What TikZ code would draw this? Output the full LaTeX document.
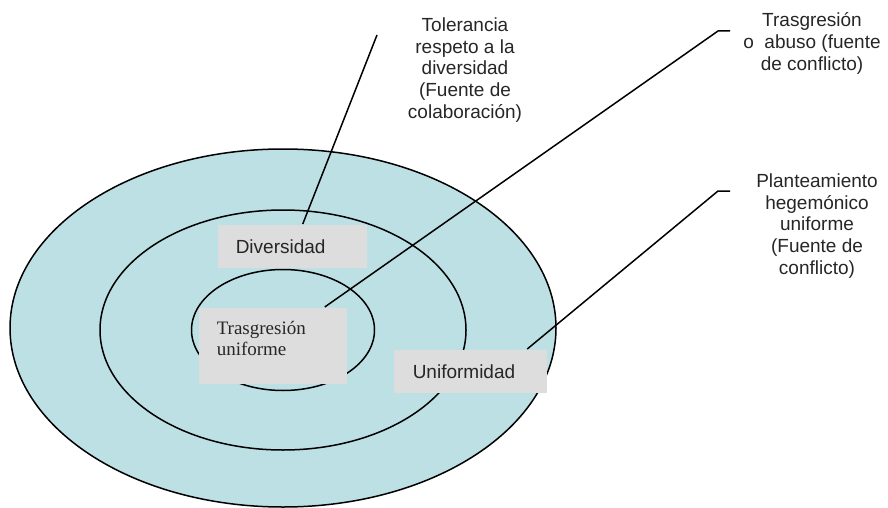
\documentclass[tikz,border=0pt]{standalone}
\usepackage{fontspec}
\setmainfont{Liberation Sans}
\newfontfamily\timesfont{Liberation Serif}
\definecolor{anillo}{RGB}{189,224,228}
\definecolor{caja}{RGB}{221,221,221}
\definecolor{texto}{RGB}{38,38,38}
\begin{document}
\begin{tikzpicture}[x=1pt, y=-1pt, line width=1.5pt,
  caja/.style={fill=caja, draw=none, text=texto, align=left, minimum height=43pt},
  nota/.style={text=texto, align=center, font=\fontsize{19}{21.6}\selectfont}]
\useasboundingbox (0,0) rectangle (888,508);
\draw[fill=anillo] (283,328) ellipse [x radius=273, y radius=179];
\draw (283,330) ellipse [x radius=183, y radius=120];
\draw (283,330) ellipse [x radius=91.5, y radius=60.5];
\node[caja, anchor=north west, inner xsep=17.5pt, text width=114pt, font=\fontsize{19}{21.6}\selectfont] (B_div) at (217.5,224) {Diversidad};
\node[caja, anchor=north west, inner xsep=18pt, text width=112pt, minimum height=76pt, text depth=35pt, font=\timesfont\fontsize{19}{21}\selectfont] (B_tras) at (198,307) {Trasgresión\\uniforme};
\node[caja, anchor=north west, inner xsep=19pt, text width=115pt, font=\fontsize{19}{21.6}\selectfont] (B_uni) at (393,349) {Uniformidad};
\node[nota] (T_tol) at (465,70) {Tolerancia\\respeto a la\\diversidad\\(Fuente de\\colaboración)};
\node[nota] (T_tras) at (812,43.5) {Trasgresión\\o\ \ abuso (fuente\\de conflicto)};
\node[nota] (T_plan) at (817,226) {Planteamiento\\hegemónico\\uniforme\\(Fuente de\\conflicto)};
\coordinate (C_tol) at (377,35);
\coordinate (C_tras1) at (730,31);
\coordinate (C_tras2) at (718,31);
\coordinate (C_plan1) at (730,191);
\coordinate (C_plan2) at (718,191);
\draw (C_tol) -- ([xshift=10pt]B_div.north);
\draw (C_tras1) -- (C_tras2) -- ([xshift=52pt]B_tras.north);
\draw (C_plan1) -- (C_plan2) -- ([xshift=57pt]B_uni.north);
\end{tikzpicture}
\end{document}
